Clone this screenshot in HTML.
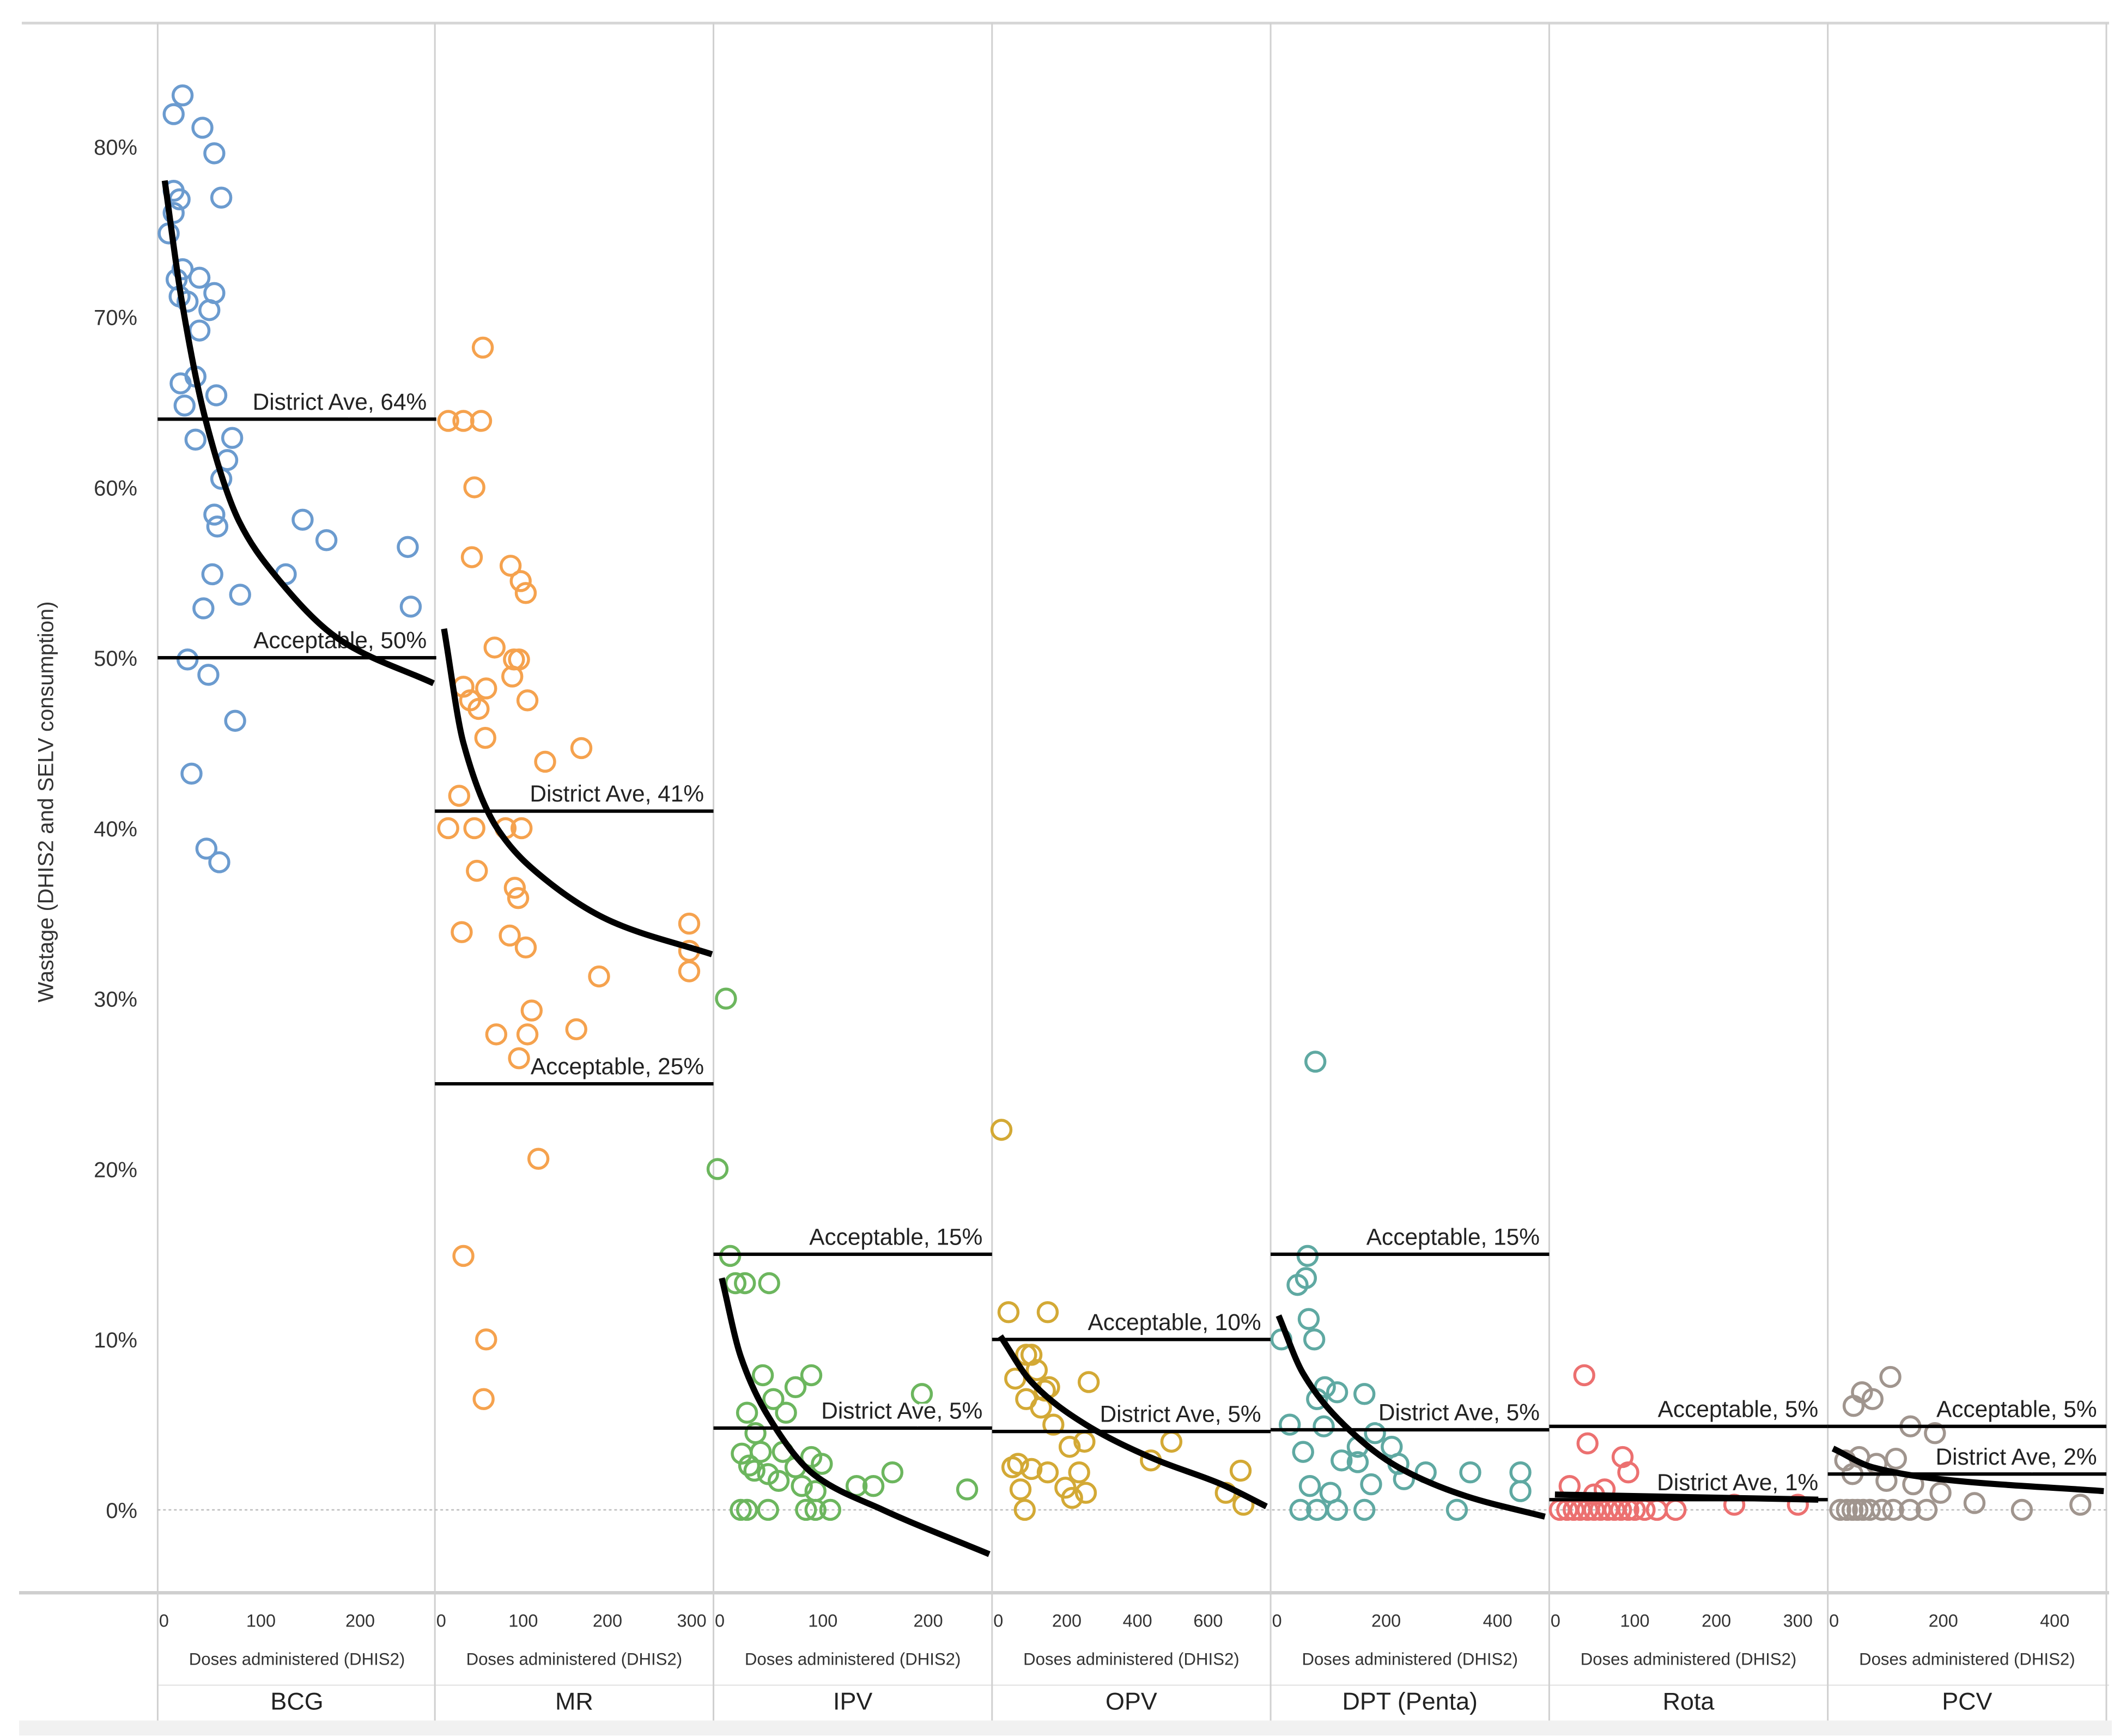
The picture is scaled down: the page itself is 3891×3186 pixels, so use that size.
<!DOCTYPE html>
<html><head><meta charset="utf-8"><style>
html,body{margin:0;padding:0;background:#fff;}
svg{display:block;font-family:"Liberation Sans",Arial,sans-serif;}
</style></head><body>
<svg id="chart" width="3891" height="3186" viewBox="0 0 1560 1277.4" xmlns="http://www.w3.org/2000/svg"></svg>
<script>
const panelNames = ["BCG","MR","IPV","OPV","DPT (Penta)","Rota","PCV"];
const panelColors = ["#6b9bcf","#f5a24e","#6cb65e","#d3a935","#5fa9a2","#ec7070","#a0958e"];
const panelTicks = [[0,100,200],[0,100,200,300],[0,100,200],[0,200,400,600],[0,200,400],[0,100,200,300],[0,200,400]];
const panelScale = [0.73,0.62,0.775,0.26,0.41,0.6,0.41];
const yTicks = [0,10,20,30,40,50,60,70,80];
const districtAve = [64,41,4.8,4.6,4.7,0.6,2.1];
const districtLabels = ["District Ave, 64%","District Ave, 41%","District Ave, 5%","District Ave, 5%","District Ave, 5%","District Ave, 1%","District Ave, 2%"];
const acceptable = [50,25,15,10,15,4.9,4.9];
const acceptableLabels = ["Acceptable, 50%","Acceptable, 25%","Acceptable, 15%","Acceptable, 10%","Acceptable, 15%","Acceptable, 5%","Acceptable, 5%"];

const bcgDoses = [21,12,41,53,60,12,18,12,7,21,38,15,53,18,26,48,38,19,34,55,23,34,71,66,60,53,56,142,166,248,51,125,79,42,251,26,47,74,30,45,58];
const bcgWaste = [83,81.9,81.1,79.6,77,77.4,76.9,76.1,74.9,72.8,72.3,72.2,71.4,71.2,70.9,70.4,69.2,66.1,66.5,65.4,64.8,62.8,62.9,61.6,60.5,58.4,57.7,58.1,56.9,56.5,54.9,54.9,53.7,52.9,53,49.9,49,46.3,43.2,38.8,38];
const mrDoses = [52,11,29,50,42,39,85,97,103,66,89,95,87,29,56,37,47,105,55,169,126,24,11,42,79,98,45,90,94,297,27,84,103,297,297,190,110,163,68,105,95,118,29,56,53];
const mrWaste = [68.2,63.9,63.9,63.9,60,55.9,55.4,54.5,53.8,50.6,49.9,49.9,48.9,48.3,48.2,47.5,47,47.5,45.3,44.7,43.9,41.9,40,40,40,40,37.5,36.5,35.9,34.4,33.9,33.7,33,32.8,31.6,31.3,29.3,28.2,27.9,27.9,26.5,20.6,14.9,10,6.5];
const ipvDoses = [8,0,12,17,26,49,43,89,74,53,194,28,65,36,23,41,62,89,99,30,35,48,74,166,132,148,237,58,80,93,22,28,48,84,93,107];
const ipvWaste = [30,20,14.9,13.3,13.3,13.3,7.9,7.9,7.2,6.5,6.8,5.7,5.7,4.5,3.3,3.4,3.4,3.1,2.7,2.6,2.3,2.1,2.5,2.2,1.4,1.4,1.2,1.7,1.4,1.1,0,0,0,0,0,0];
const opvDoses = [15,35,146,85,100,115,54,150,138,262,85,127,162,496,250,208,438,62,46,100,146,235,692,69,196,254,215,81,650,700];
const opvWaste = [22.3,11.6,11.6,9.1,9.1,8.2,7.7,7.2,7,7.5,6.5,6,5,4,4,3.7,2.9,2.7,2.5,2.4,2.2,2.2,2.3,1.2,1.3,1,0.7,0,1,0.3];
const dptDoses = [73,59,56,41,61,12,71,90,112,161,76,27,88,180,210,51,149,120,149,222,271,351,441,232,173,63,100,441,46,76,112,161,327];
const dptWaste = [26.3,14.9,13.6,13.2,11.2,10,10,7.2,6.9,6.8,6.5,5,4.9,4.5,3.7,3.4,3.7,2.9,2.8,2.7,2.2,2.2,2.2,1.8,1.5,1.4,1,1.1,0,0,0,0,0];
const rotaDoses = [38,42,85,92,20,50,63,8,17,25,33,42,50,58,67,75,83,92,100,112,127,150,222,300];
const rotaWaste = [7.9,3.9,3.1,2.2,1.4,0.9,1.2,0,0,0,0,0,0,0,0,0,0,0,0,0,0,0,0.3,0.3];
const pcvDoses = [54,39,73,105,141,185,24,49,80,115,37,98,146,195,256,341,446,15,27,37,46,56,68,90,110,140,170];
const pcvWaste = [6.9,6.1,6.5,7.8,4.9,4.5,2.9,3.1,2.7,3,2.1,1.7,1.5,1,0.4,0,0.3,0,0,0,0,0,0,0,0,0,0];

const trendDoses = [[3,20,44,78,112,181,274],[6,29,69,126,206,324],[4,22,48,93,157,258],[12,100,254,446,638,765],[7,51,124,222,344,485],[2,325],[2,73,195,488]];
const trendWaste = [[78,71,64,58,55,51,48.5],[51.7,45,40,37,34.5,32.6],[13.6,9,5.5,2,0,-2.6],[10.2,7.5,5,3,1.5,0.2],[11.4,8,5,2.5,0.8,-0.4],[0.9,0.6],[3.6,2.5,1.8,1.1]];

const pointDoses = [bcgDoses,mrDoses,ipvDoses,opvDoses,dptDoses,rotaDoses,pcvDoses];
const pointWaste = [bcgWaste,mrWaste,ipvWaste,opvWaste,dptWaste,rotaWaste,pcvWaste];

const NS = "http://www.w3.org/2000/svg";
const svg = document.getElementById("chart");
const panelLeft = [116,320,525,730,935,1140,1345];
const panelW = 205;
const zeroOffset = 3;
function yPos(v){ return 1111 - v*12.54; }
function xPos(p,d){ return panelLeft[p] + zeroOffset + d*panelScale[p]; }
function el(tag, attrs, parent){
  const e = document.createElementNS(NS, tag);
  for (const k in attrs) e.setAttribute(k, attrs[k]);
  (parent||svg).appendChild(e);
  return e;
}
// monotone cubic (Fritsch-Carlson) path through points
function monotonePath(pts){
  const n = pts.length;
  if (n < 3) return "M"+pts.map(q=>q[0]+","+q[1]).join(" L");
  const dx=[], sl=[];
  for (let i=0;i<n-1;i++){ dx[i]=pts[i+1][0]-pts[i][0]; sl[i]=(pts[i+1][1]-pts[i][1])/dx[i]; }
  const m=[sl[0]];
  for (let i=1;i<n-1;i++){
    if (sl[i-1]*sl[i] <= 0) m[i]=0;
    else { const w1=2*dx[i]+dx[i-1], w2=dx[i]+2*dx[i-1]; m[i]=(w1+w2)/(w1/sl[i-1]+w2/sl[i]); }
  }
  m[n-1]=sl[n-2];
  let d="M"+pts[0][0]+","+pts[0][1];
  for (let i=0;i<n-1;i++){
    const h=dx[i]/3;
    d+=" C"+(pts[i][0]+h)+","+(pts[i][1]+m[i]*h)+" "+(pts[i+1][0]-h)+","+(pts[i+1][1]-m[i+1]*h)+" "+pts[i+1][0]+","+pts[i+1][1];
  }
  return d;
}

let t = el("line",{x1:16,y1:17,x2:1552,y2:17,stroke:"#d6d6d6","stroke-width":2});


t = el("line",{x1:14,y1:1172,x2:1552,y2:1172,stroke:"#cfcfcf","stroke-width":2.5});


t = el("line",{x1:116,y1:1240,x2:1552,y2:1240,stroke:"#e6e6e6","stroke-width":1});


t = el("rect",{x:14,y:1266,width:1540,height:11,fill:"#f1f1f1"});


for (let i=0;i<=7;i++){
  const x = i<7 ? panelLeft[i] : 1550;
  t = el("line",{x1:x,y1:17,x2:x,y2:1266,stroke:"#d0d0d0","stroke-width":1.2});
  
  
}
t = el("line",{x1:116,y1:yPos(0),x2:1550,y2:yPos(0),stroke:"#bdbdbd","stroke-width":1,"stroke-dasharray":"2,2"});


yTicks.forEach(v=>{
  const tx = el("text",{x:101,y:yPos(v)+6,"text-anchor":"end","font-size":16,fill:"#333"});
  tx.textContent = v+"%";
  
  
});
t = el("text",{x:0,y:0,"text-anchor":"middle","font-size":16,fill:"#333",transform:"translate(39,590) rotate(-90)"});
t.textContent = "Wastage (DHIS2 and SELV consumption)";



for (let p=0;p<7;p++){
  const g = el("g",{});
  
  
  pointDoses[p].forEach((d,i)=>{
    const c = el("circle",{cx:xPos(p,d),cy:yPos(pointWaste[p][i]),r:7,fill:"none",stroke:panelColors[p],"stroke-width":2.2},g);
    
    
  });
  const right = panelLeft[p]+panelW;
  [[districtAve[p],districtLabels[p],'district-average'],[acceptable[p],acceptableLabels[p],'acceptable-threshold']].forEach(r=>{
    const ln = el("line",{x1:panelLeft[p],y1:yPos(r[0]),x2:right,y2:yPos(r[0]),stroke:"#000","stroke-width":2.5},g);
    
    
    const lb = el("text",{x:right-7,y:yPos(r[0])-7,"text-anchor":"end","font-size":17,fill:"#222",stroke:"#fff","stroke-width":4,"paint-order":"stroke"},g);
    lb.textContent = r[1];
    
    
  });
  const pts = trendDoses[p].map((d,i)=>[xPos(p,d), yPos(trendWaste[p][i])]);
  const tr = el("path",{d:monotonePath(pts),fill:"none",stroke:"#000","stroke-width":4.5,"stroke-linejoin":"round"},g);
  
  
  panelTicks[p].forEach(v=>{
    const x = xPos(p,v);
    const tx = el("text",{x: v===0 ? x-2 : x, y:1197,"text-anchor": v===0 ? "start" : "middle","font-size":13,fill:"#333"},g);
    tx.textContent = v;
    
    
  });
  const xt = el("text",{x:panelLeft[p]+panelW/2,y:1225,"text-anchor":"middle","font-size":12.5,fill:"#333"},g);
  xt.textContent = "Doses administered (DHIS2)";
  
  
  const nm = el("text",{x:panelLeft[p]+panelW/2,y:1258,"text-anchor":"middle","font-size":18,fill:"#222"},g);
  nm.textContent = panelNames[p];
  
  
}
</script>
</body></html>
